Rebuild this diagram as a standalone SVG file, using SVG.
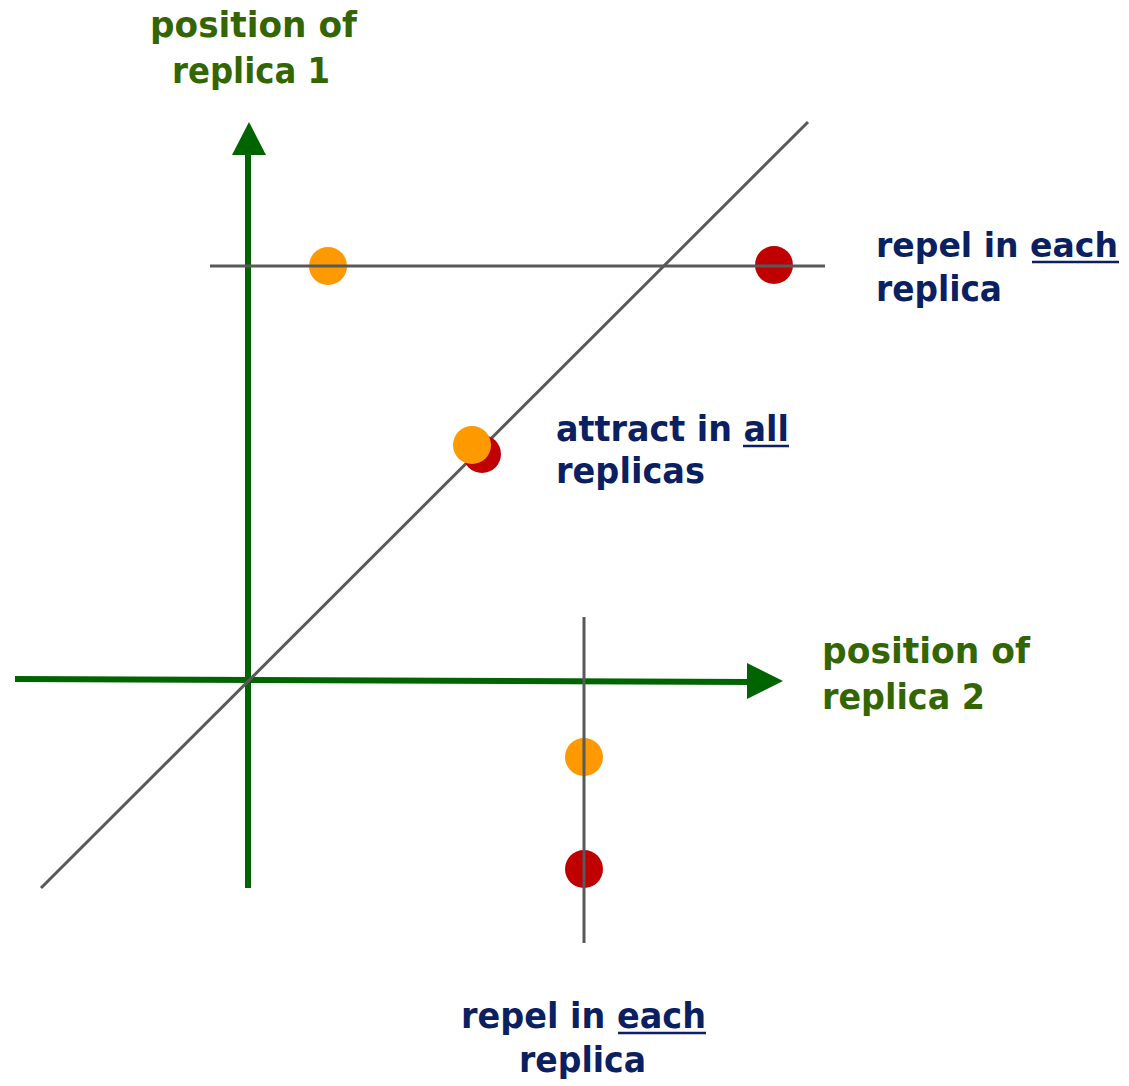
<svg xmlns="http://www.w3.org/2000/svg" width="1129" height="1086" viewBox="0 0 1129 1086">
  <style>
    .axis { stroke: #006400; stroke-width: 6; fill: none; }
    .head { fill: #006400; }
    .guide { stroke: #595959; stroke-width: 3; fill: none; }
    .t { font-family: "DejaVu Sans", "Liberation Sans", sans-serif; font-weight: bold; font-size: 36px; }
    .edge { font-size: 34px; }
    .g { fill: #336600; }
    .n { fill: #0b2060; }
    .u { stroke: #0b2060; stroke-width: 2.5; }
    .orange { fill: #ff9900; }
    .red { fill: #c00000; }
  </style>
  <rect width="1129" height="1086" fill="#ffffff"/>

  <!-- axes and diagonal, beneath the points -->
  <g id="connectors">
    <line class="axis" x1="248" y1="888" x2="248" y2="150"/>
    <polygon class="head" points="249,122 232,155 266,155"/>
    <line class="axis" x1="15" y1="679" x2="752" y2="682"/>
    <polygon class="head" points="783,681 747,663 747,699"/>
    <line class="guide" x1="41" y1="888" x2="808" y2="122"/>
  </g>

  <!-- replica points -->
  <g id="pair-top">
    <circle class="orange" cx="328" cy="266" r="19"/>
    <circle class="red" cx="774" cy="265" r="19"/>
  </g>
  <g id="pair-diagonal">
    <circle class="red" cx="482" cy="454" r="19"/>
    <circle class="orange" cx="472" cy="445" r="19"/>
  </g>
  <g id="pair-bottom">
    <circle class="orange" cx="584" cy="757" r="19"/>
    <circle class="red" cx="584" cy="869" r="19"/>
  </g>

  <!-- guide lines drawn over the points -->
  <g id="guides">
    <line class="guide" x1="210" y1="266" x2="825" y2="266"/>
    <line class="guide" x1="584" y1="617" x2="584" y2="943"/>
  </g>

  <!-- labels -->
  <g id="label-y-axis">
    <text class="t g" x="150" y="37" textLength="207" lengthAdjust="spacingAndGlyphs">position of</text>
    <text class="t g" x="172" y="83" textLength="158" lengthAdjust="spacingAndGlyphs">replica 1</text>
  </g>
  <g id="label-x-axis">
    <text class="t g" x="822" y="663" textLength="208" lengthAdjust="spacingAndGlyphs">position of</text>
    <text class="t g" x="822" y="709" textLength="163" lengthAdjust="spacingAndGlyphs">replica 2</text>
  </g>
  <g id="label-top">
    <text class="t edge n" x="876" y="257" textLength="242" lengthAdjust="spacingAndGlyphs">repel in each</text>
    <line class="u" x1="1032" y1="262" x2="1119" y2="262"/>
    <text class="t n" x="876" y="301" textLength="126" lengthAdjust="spacingAndGlyphs">replica</text>
  </g>
  <g id="label-diagonal">
    <text class="t n" x="556" y="441" textLength="233" lengthAdjust="spacingAndGlyphs">attract in all</text>
    <line class="u" x1="743" y1="446" x2="789" y2="446"/>
    <text class="t n" x="556" y="483" textLength="149" lengthAdjust="spacingAndGlyphs">replicas</text>
  </g>
  <g id="label-bottom">
    <text class="t n" x="461" y="1028" textLength="245" lengthAdjust="spacingAndGlyphs">repel in each</text>
    <line class="u" x1="618" y1="1033" x2="706" y2="1033"/>
    <text class="t n" x="519" y="1072" textLength="127" lengthAdjust="spacingAndGlyphs">replica</text>
  </g>
</svg>
